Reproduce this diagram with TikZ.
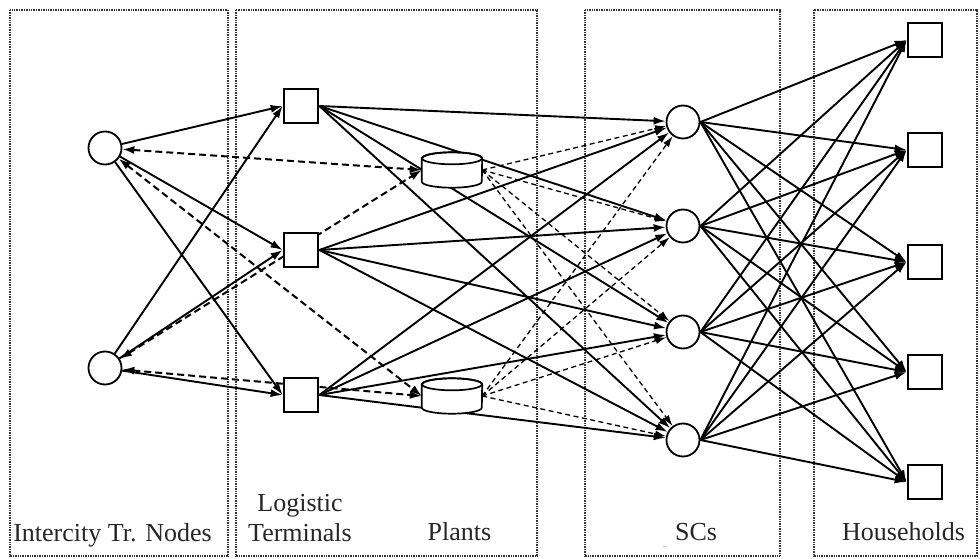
\documentclass[tikz,border=0pt]{standalone}
\usepackage{fontspec}
\setmainfont{Liberation Serif}
\usetikzlibrary{arrows.meta}
\pgfdeclarelayer{frame}
\pgfdeclarelayer{links}
\pgfsetlayers{frame,links,main}

% drum-shaped outline drawn over an (invisible) rectangular node
\newcommand\drawdrum[1]{%
  \filldraw[fill=white, line width=1.7pt]
    ([yshift=-6pt]#1.north west) -- ([yshift=6pt]#1.south west)
    arc[x radius=30pt, y radius=6pt, start angle=180, end angle=360]
    -- ([yshift=-6pt]#1.north east)
    arc[x radius=30pt, y radius=6pt, start angle=0, end angle=180] -- cycle;
  \draw[line width=1.7pt] ([yshift=-6pt]#1.north) ellipse[x radius=30pt, y radius=6pt];
}

\begin{document}
\begin{tikzpicture}[x=1pt,y=-1pt,
  hub/.style={circle, draw, line width=1.8pt, fill=white, minimum size=33pt, inner sep=0pt},
  sq/.style={rectangle, draw, line width=2.2pt, fill=white, minimum size=34.5pt, inner sep=0pt},
  plantbase/.style={rectangle, minimum width=60pt, minimum height=35pt, inner sep=0pt},
  flow/.style={line width=1.9pt, arrows={-Latex[length=12pt,width=8pt]}},
  back/.style={line width=2pt, dash pattern=on 7pt off 4pt,
    arrows={Latex[length=12pt,width=8pt]-Latex[length=12pt,width=8pt]}},
  feed/.style={line width=1.3pt, dash pattern=on 5pt off 3.5pt,
    arrows={-Latex[length=11pt,width=7pt]}},
  zone/.style={draw=black!80, line width=2pt, dash pattern=on 1pt off 0.7pt},
  lbl/.style={font=\fontsize{26}{30}\selectfont, text=black!85, inner sep=0pt, anchor=base}
]
\useasboundingbox (0,0) rectangle (980,559);

% intercity transport nodes
\node[hub] (I1) at (105,148) {};
\node[hub] (I2) at (105,368) {};
% logistic terminals
\node[sq] (L1) at (301,106) {};
\node[sq] (L2) at (301,250) {};
\node[sq] (L3) at (301,395) {};
% plants
\node[plantbase] (P1) at (452,170) {};
\node[plantbase] (P2) at (452,396) {};
\drawdrum{P1}
\drawdrum{P2}
% service centres
\node[hub] (S1) at (683,122) {};
\node[hub] (S2) at (683,226) {};
\node[hub] (S3) at (683,332) {};
\node[hub] (S4) at (683,440) {};
% households
\node[sq] (H1) at (925,40) {};
\node[sq] (H2) at (925,150) {};
\node[sq] (H3) at (925,262) {};
\node[sq] (H4) at (925,372) {};
\node[sq] (H5) at (925,482) {};

% column frames
\begin{pgfonlayer}{frame}
  \draw[zone] (10,10) rectangle (228,556);
  \draw[zone] (236,10) rectangle (537,556);
  \draw[zone] (585,10) rectangle (780,556);
  \draw[zone] (814,10) rectangle (977,556);
\end{pgfonlayer}

% flows
\begin{pgfonlayer}{links}
  \foreach \i in {I1,I2}
    \foreach \l in {L1,L2,L3}
      \draw[flow] (\i) -- (\l.west);
  \foreach \i in {I1,I2}
    \foreach \p in {P1,P2}
      \draw[back] (\i) -- (\p.west);
  \foreach \l in {L1,L2,L3}
    \foreach \s in {S1,S2,S3,S4}
      \draw[flow] (\l.east) -- (\s);
  \foreach \p in {P1,P2}
    \foreach \s in {S1,S2,S3,S4}
      \draw[feed] (\p.east) -- (\s);
  \foreach \s in {S1,S2,S3,S4}
    \foreach \h in {H1,H2,H3,H4,H5}
      \draw[flow] (\s.east) -- (\h.west);
\end{pgfonlayer}

% column titles
\node[lbl] (tI) at (112.5,541) {Intercity Tr. Nodes};
\node[lbl] (tL1) at (300,511) {Logistic};
\node[lbl] (tL2) at (300,541) {Terminals};
\node[lbl] (tP) at (459.5,540) {Plants};
\node[lbl] (tS) at (696,540) {SCs};
\node[lbl] (tH) at (903.5,540) {Households};
\node[font=\fontsize{7}{7}\selectfont, text=black!60, inner sep=0pt] (tt) at (665,548) {\textasciitilde};
\end{tikzpicture}
\end{document}
